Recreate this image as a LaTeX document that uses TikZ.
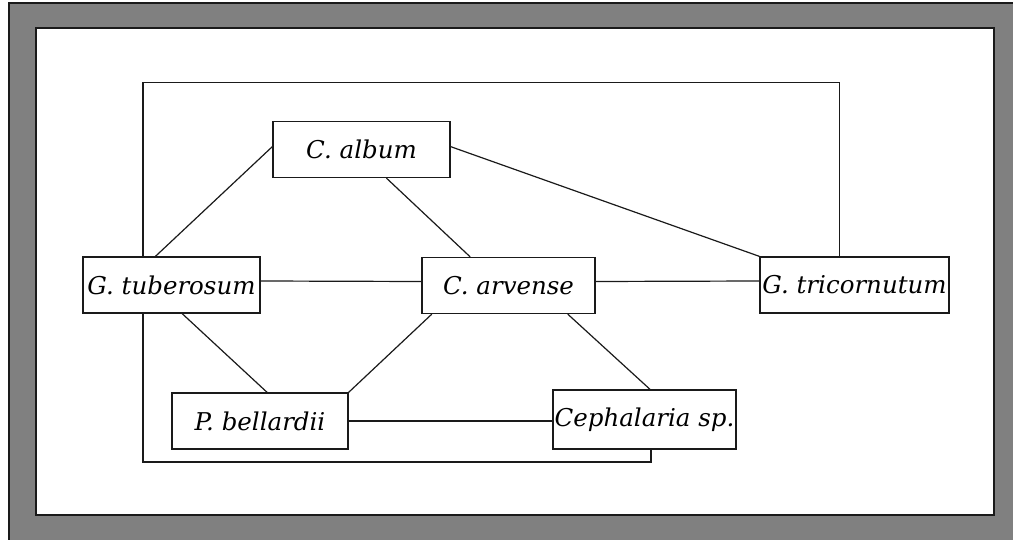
\documentclass[tikz,border=0pt]{standalone}
\usepackage{fontspec}
\setmainfont{DejaVu Serif}
\usetikzlibrary{calc}
\pgfdeclarelayer{sheet}
\pgfdeclarelayer{route}
\pgfsetlayers{sheet,route,main}
\definecolor{framegray}{HTML}{808080}
\definecolor{inkdark}{HTML}{1A1A1A}
\tikzset{
  taxon/.style={draw=inkdark, fill=white, line width=1.3pt, inner sep=0pt,
    minimum height=56pt, font=\fontsize{24.5}{26}\selectfont\itshape},
  link/.style={draw=inkdark, line width=1.2pt},
}
\begin{document}
\begin{tikzpicture}[x=1pt,y=-1pt]
  \useasboundingbox (0,0) rectangle (1013,540);

  % gray mount with the white sheet on it
  \begin{pgfonlayer}{sheet}
    \fill[white] (0,0) rectangle (1013,540);
    \filldraw[fill=framegray, draw=inkdark, line width=1.2pt] (9,3) rectangle (1014,541);
    \filldraw[fill=white, draw=inkdark, line width=1.8pt] (36,28) rectangle (994,515);
  \end{pgfonlayer}

  % taxa
  \node[taxon, minimum width=177pt] (alb) at (361.5,149.5) {C. album};
  \node[taxon, minimum width=177pt] (tub) at (171.5,285) {G. tuberosum};
  \node[taxon, minimum width=173pt] (arv) at (508.5,285.5) {C. arvense};
  \node[taxon, minimum width=189pt] (tri) at (854.5,285) {G. tricornutum};
  \node[taxon, minimum width=176pt] (bel) at (260,421) {P. bellardii};
  \node[taxon, minimum width=183pt, minimum height=59pt] (cep) at (644.5,419.5) {Cephalaria sp.};

  % enclosing route, passing behind the boxes
  \coordinate (cb) at ($(cep.south west)!0.535!(cep.south east)$);
  \coordinate (lb) at (143,462);
  \coordinate (lt) at (143,82.5);
  \coordinate (tt) at ($(tri.north west)!0.42!(tri.north east)$);
  \begin{pgfonlayer}{route}
    \draw[link] (cb) |- (lb) -- (lt) -| (tt);
  \end{pgfonlayer}

  % connections
  \draw[link] ($(alb.north west)!0.45!(alb.south west)$) -- ($(tub.north west)!0.41!(tub.north east)$);
  \draw[link] ($(alb.south west)!0.64!(alb.south east)$) -- ($(arv.north west)!0.28!(arv.north east)$);
  \draw[link] ($(alb.north east)!0.45!(alb.south east)$) -- (tri.north west);
  \draw[link] ($(tub.east)+(0,-4)$) -- ($(arv.west)+(0,-4)$);
  \draw[link] ($(arv.east)+(0,-4)$) -- ($(tri.west)+(0,-4)$);
  \draw[link] ($(tub.south west)!0.56!(tub.south east)$) -- ($(bel.north west)!0.54!(bel.north east)$);
  \draw[link] ($(arv.south west)!0.06!(arv.south east)$) -- (bel.north east);
  \draw[link] ($(arv.south west)!0.84!(arv.south east)$) -- ($(cep.north west)!0.53!(cep.north east)$);
  \draw[link] (bel.east) -- (bel.east -| cep.west);
\end{tikzpicture}
\end{document}
